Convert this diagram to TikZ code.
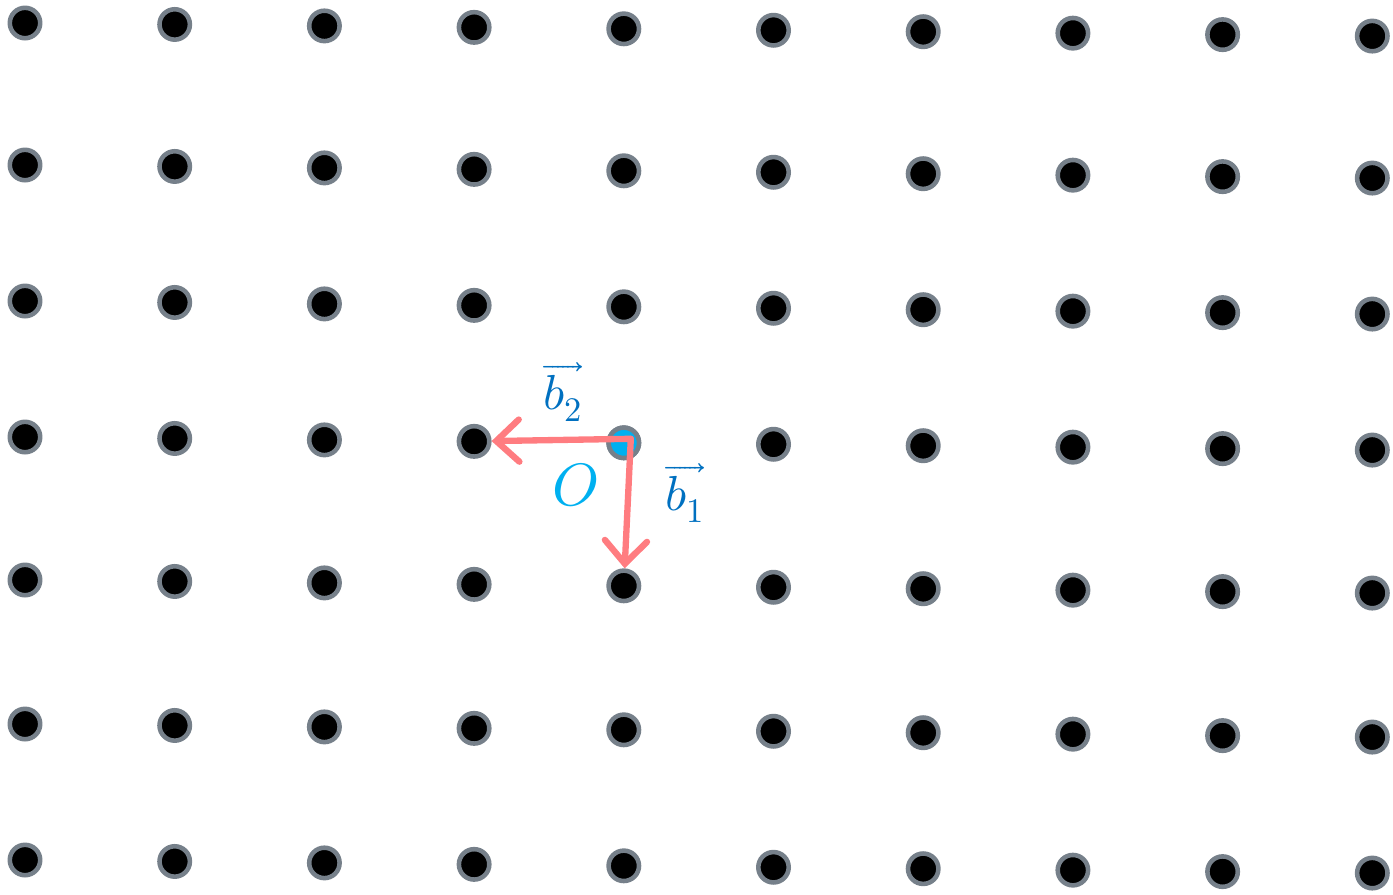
\documentclass[tikz,border=0pt]{standalone}
\usepackage{unicode-math}
\setmathfont{Latin Modern Math}
\usetikzlibrary{arrows.meta}
\definecolor{Ring}{HTML}{76808A}
\definecolor{Origin}{HTML}{00B0F0}
\definecolor{Basis}{HTML}{FF7C80}
\definecolor{Label}{HTML}{0070C0}
\tikzset{latpt/.style={circle,draw=Ring,line width=2.6pt,fill=black,
    minimum size=17.3pt,inner sep=0pt},
  origpt/.style={latpt,fill=Origin},
  basis/.style={-{Straight Barb[length=13pt,width=24pt,line cap=round]},
    line width=3.6pt,draw=Basis,line cap=round},
  veclabel/.style={text=Label,font=\fontsize{28}{28}\selectfont}}

\begin{document}
\begin{tikzpicture}[x=0.02cm,y=-0.02cm]
  \useasboundingbox (0,0) rectangle (1393,894);
  % lattice points, columns drift slightly downwards
  \foreach \r/\yy in {0/23,1/165,2/301,3/437,4/580,5/724,6/860}
    \foreach \c in {0,...,9}
      \node[latpt] (p-\c-\r) at ({25+149.7*\c},{\yy+1.45*\c}) {};
  \node[origpt] (o) at (p-4-3) {};
  \coordinate (corner) at ([shift={(7,-4)}]o.center);
  \draw[basis] (corner) -- (p-3-3);
  \draw[basis] (corner) -- (p-4-4);
  \node[veclabel] (b2) at (563,392) {$\overrightarrow{b_2}$};
  \node[veclabel] (b1) at (685,493) {$\overrightarrow{b_1}$};
  \node[text=Origin,font=\fontsize{34}{34}\selectfont] (olabel) at (575,485) {$O$};
\end{tikzpicture}
\end{document}
